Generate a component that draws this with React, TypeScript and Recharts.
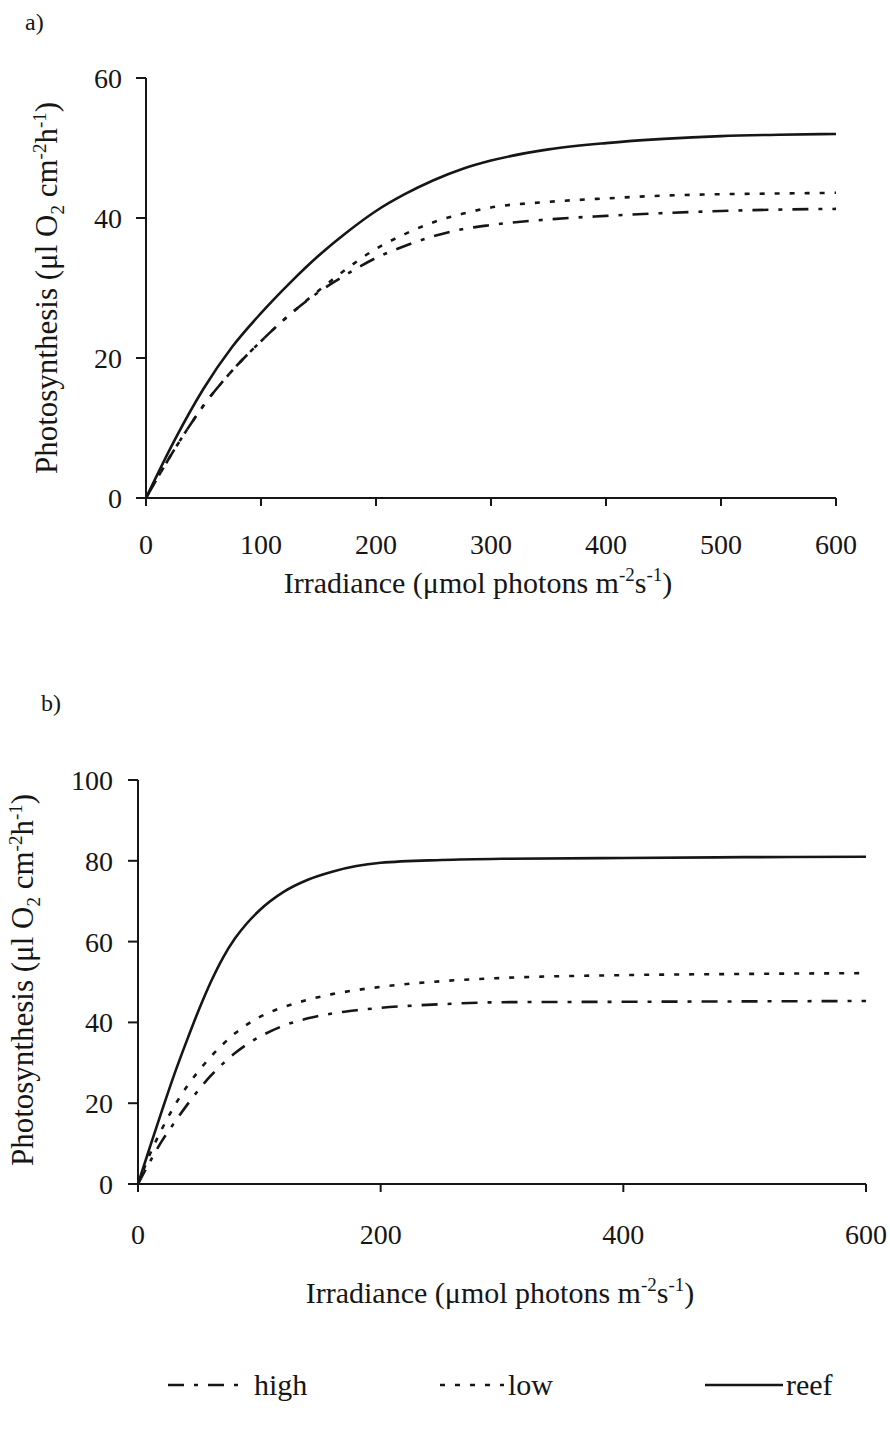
import React from "react";
import { LineChart, Line, XAxis, YAxis, Legend } from "recharts";

const FONT = "'Liberation Serif', 'Times New Roman', serif";
const INK = "#161616";

// Panel a
const irrA = [0, 25, 50, 75, 100, 125, 150, 175, 200, 225, 250, 275, 300, 350, 400, 450, 500, 550, 600];
const reefA = [0, 8.3, 15.6, 21.6, 26.4, 30.7, 34.6, 38, 41, 43.4, 45.4, 47, 48.2, 49.8, 50.7, 51.3, 51.7, 51.9, 52];
const lowA = [0, 7, 13.2, 18.2, 22.4, 26.2, 29.6, 32.8, 35.6, 37.7, 39.4, 40.6, 41.5, 42.3, 42.8, 43.2, 43.4, 43.5, 43.6];
const highA = [0, 7, 13.2, 18.2, 22.4, 26.2, 29.4, 32, 34.3, 36, 37.4, 38.4, 39, 39.8, 40.3, 40.7, 41, 41.2, 41.3];
const xTicksA = [0, 100, 200, 300, 400, 500, 600];
const yTicksA = [0, 20, 40, 60];

// Panel b
const irrB = [0, 10, 20, 30, 40, 50, 60, 70, 80, 90, 100, 120, 140, 160, 180, 200, 250, 300, 400, 500, 600];
const reefB = [0, 9.3, 18.4, 27.2, 35.3, 43, 50, 56, 60.8, 64.6, 67.7, 72.3, 75.3, 77.3, 78.7, 79.5, 80.2, 80.5, 80.7, 80.9, 81];
const lowB = [0, 7.5, 13.8, 19.3, 24, 28, 31.5, 34.6, 37.3, 39.5, 41.3, 43.8, 45.6, 47, 48, 48.8, 50.2, 51, 51.7, 52, 52.2];
const highB = [0, 5.6, 10.8, 15.2, 19.4, 23.3, 26.8, 29.8, 32.4, 34.6, 36.4, 39.2, 41, 42.2, 43, 43.6, 44.5, 45, 45.1, 45.2, 45.3];
const xTicksB = [0, 200, 400, 600];
const yTicksB = [0, 20, 40, 60, 80, 100];

const seriesNames = ["high", "low", "reef"];

const dataA = irrA.map((I, i) => ({ I, high: highA[i], low: lowA[i], reef: reefA[i] }));
const dataB = irrB.map((I, i) => ({ I, high: highB[i], low: lowB[i], reef: reefB[i] }));

const DASH_HIGH = "16 10 4 10";
const DASH_LOW = "5 10";
const LW = 2.6;

const tickStyle = { fontSize: 28, fontFamily: FONT, fill: INK };

const SUB = 19;

const YLabel = ({ cx, cy }: { cx: number; cy: number }) => (
  <text
    transform={`translate(${cx},${cy}) rotate(-90)`}
    textAnchor="middle"
    dy="0.35em"
    fontFamily={FONT}
    fontSize={31}
    fill={INK}
  >
    Photosynthesis (μl O
    <tspan fontSize={SUB} dy={7}>2</tspan>
    <tspan dy={-7}> cm</tspan>
    <tspan fontSize={SUB} dy={-11}>-2</tspan>
    <tspan dy={11}>h</tspan>
    <tspan fontSize={SUB} dy={-11}>-1</tspan>
    <tspan dy={11}>)</tspan>
  </text>
);

const XLabel = ({ cx, y }: { cx: number; y: number }) => (
  <text x={cx} y={y} textAnchor="middle" fontFamily={FONT} fontSize={30} fill={INK}>
    Irradiance (μmol photons m
    <tspan fontSize={SUB} dy={-12}>-2</tspan>
    <tspan dy={12}>s</tspan>
    <tspan fontSize={SUB} dy={-12}>-1</tspan>
    <tspan dy={12}>)</tspan>
  </text>
);

const legendPos = [
  { x1: 168, x2: 248, tx: 254, dash: DASH_HIGH },
  { x1: 440, x2: 504, tx: 508, dash: DASH_LOW },
  { x1: 705, x2: 783, tx: 786, dash: undefined as string | undefined },
];

const renderLegend = (props: any) => {
  const payload = props.payload || [];
  return (
    <svg width={890} height={50}>
      {seriesNames.map((name, i) => {
        const p = legendPos[i];
        const entry = payload.find((e: any) => e.value === name);
        return (
          <g key={name}>
            <line x1={p.x1} x2={p.x2} y1={22} y2={22} stroke={INK} strokeWidth={LW} strokeDasharray={p.dash} />
            <text x={p.tx} y={32} fontFamily={FONT} fontSize={30} fill={INK}>
              {entry ? entry.value : name}
            </text>
          </g>
        );
      })}
    </svg>
  );
};

export default function App() {
  return (
    <div style={{ position: "absolute", left: 0, top: 0, width: 890, height: 1429, background: "#fff" }}>
      <div style={{ position: "absolute", left: 0, top: 0 }}>
        <LineChart width={890} height={640} data={dataA} margin={{ top: 78, right: 54, bottom: 112, left: 86 }}>
          <XAxis
            dataKey="I"
            type="number"
            domain={[0, 600]}
            ticks={xTicksA}
            interval={0}
            height={30}
            tickSize={8}
            tickMargin={28}
            stroke={INK}
            strokeWidth={2}
            tick={tickStyle}
            label={{ content: () => <XLabel cx={478} y={593} /> }}
          />
          <YAxis
            type="number"
            domain={[0, 60]}
            ticks={yTicksA}
            interval={0}
            width={60}
            tickSize={10}
            tickMargin={14}
            stroke={INK}
            strokeWidth={2}
            tick={tickStyle}
            label={{ content: () => <YLabel cx={46} cy={288} /> }}
          />
          <Line dataKey="high" type="monotone" stroke={INK} strokeWidth={LW} strokeDasharray={DASH_HIGH} dot={false} isAnimationActive={false} />
          <Line dataKey="low" type="monotone" stroke={INK} strokeWidth={LW} strokeDasharray={DASH_LOW} dot={false} isAnimationActive={false} />
          <Line dataKey="reef" type="monotone" stroke={INK} strokeWidth={LW} dot={false} isAnimationActive={false} />
        </LineChart>
        <svg style={{ position: "absolute", left: 0, top: 0 }} width={100} height={40}>
          <text x={25} y={30} fontFamily={FONT} fontSize={24} fill={INK}>a)</text>
        </svg>
      </div>
      <div style={{ position: "absolute", left: 0, top: 660 }}>
        <LineChart width={890} height={769} data={dataB} margin={{ top: 120, right: 24, bottom: 161, left: 78 }}>
          <XAxis
            dataKey="I"
            type="number"
            domain={[0, 600]}
            ticks={xTicksB}
            interval={0}
            height={30}
            tickSize={8}
            tickMargin={32}
            stroke={INK}
            strokeWidth={2}
            tick={tickStyle}
            label={{ content: () => <XLabel cx={500} y={643} /> }}
          />
          <YAxis
            type="number"
            domain={[0, 100]}
            ticks={yTicksB}
            interval={0}
            width={60}
            tickSize={10}
            tickMargin={15}
            stroke={INK}
            strokeWidth={2}
            tick={tickStyle}
            label={{ content: () => <YLabel cx={22} cy={320} /> }}
          />
          <Line dataKey="high" type="monotone" stroke={INK} strokeWidth={LW} strokeDasharray={DASH_HIGH} dot={false} isAnimationActive={false} />
          <Line dataKey="low" type="monotone" stroke={INK} strokeWidth={LW} strokeDasharray={DASH_LOW} dot={false} isAnimationActive={false} />
          <Line dataKey="reef" type="monotone" stroke={INK} strokeWidth={LW} dot={false} isAnimationActive={false} />
          <Legend content={renderLegend} wrapperStyle={{ left: 0, top: 703, width: 890 }} />
        </LineChart>
        <svg style={{ position: "absolute", left: 0, top: 0 }} width={100} height={70}>
          <text x={41} y={51} fontFamily={FONT} fontSize={24} fill={INK}>b)</text>
        </svg>
      </div>
    </div>
  );
}
